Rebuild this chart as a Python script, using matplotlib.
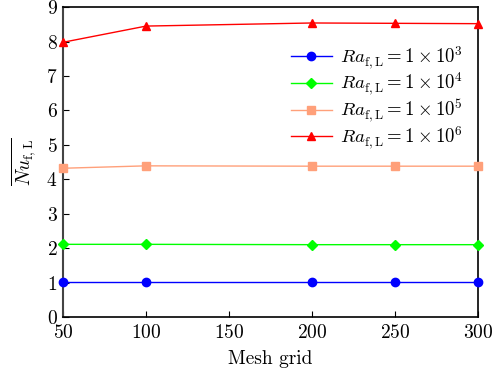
import matplotlib
matplotlib.use('Agg')
import matplotlib.pyplot as plt

plt.rcParams['font.family'] = 'serif'
plt.rcParams['font.serif'] = ['cmr10']
plt.rcParams['mathtext.fontset'] = 'cm'
plt.rcParams['axes.formatter.use_mathtext'] = True

mesh = [50, 100, 200, 250, 300]
nu_1e3 = [1.03, 1.03, 1.03, 1.03, 1.03]
nu_1e4 = [2.11, 2.11, 2.10, 2.10, 2.10]
nu_1e5 = [4.32, 4.39, 4.38, 4.38, 4.38]
nu_1e6 = [7.98, 8.45, 8.54, 8.53, 8.52]

series = [
    (nu_1e3, 'blue', 'o', r'$Ra_{\mathrm{f,L}}=1\times10^3$'),
    (nu_1e4, 'lime', 'D', r'$Ra_{\mathrm{f,L}}=1\times10^4$'),
    (nu_1e5, '#ffa07a', 's', r'$Ra_{\mathrm{f,L}}=1\times10^5$'),
    (nu_1e6, 'red', '^', r'$Ra_{\mathrm{f,L}}=1\times10^6$'),
]

fig, ax = plt.subplots(figsize=(5.01, 3.76), dpi=100)

for vals, c, m, lab in series:
    ax.plot(mesh, vals, color=c, marker=m, markersize=6 if m != 'D' else 5,
            linewidth=1.0, label=lab, clip_on=False, zorder=3)

ax.set_xlim(50, 300)
ax.set_ylim(0, 9)
ax.set_xticks([50, 100, 150, 200, 250, 300])
ax.set_yticks(range(10))
ax.tick_params(direction='in', labelsize=14, length=4)
ax.tick_params(axis='x', pad=5)
ax.tick_params(axis='y', pad=4)
ax.set_xlabel('Mesh grid', fontsize=14, labelpad=6)
ax.set_ylabel(r'$\overline{Nu_{\mathrm{f,L}}}$', fontsize=14, labelpad=5)
ax.spines['left'].set_color('#444444')
ax.spines['left'].set_linewidth(1.5)
for s in ['top', 'right', 'bottom']:
    ax.spines[s].set_linewidth(1.2)

ax.legend(loc='upper right', frameon=False, fontsize=13.5,
          bbox_to_anchor=(1.005, 0.935), handlelength=2.2, labelspacing=0.0,
          handletextpad=0.45)

plt.subplots_adjust(left=0.126, right=0.954, top=0.981, bottom=0.157)
plt.savefig('out.png', dpi=100)
